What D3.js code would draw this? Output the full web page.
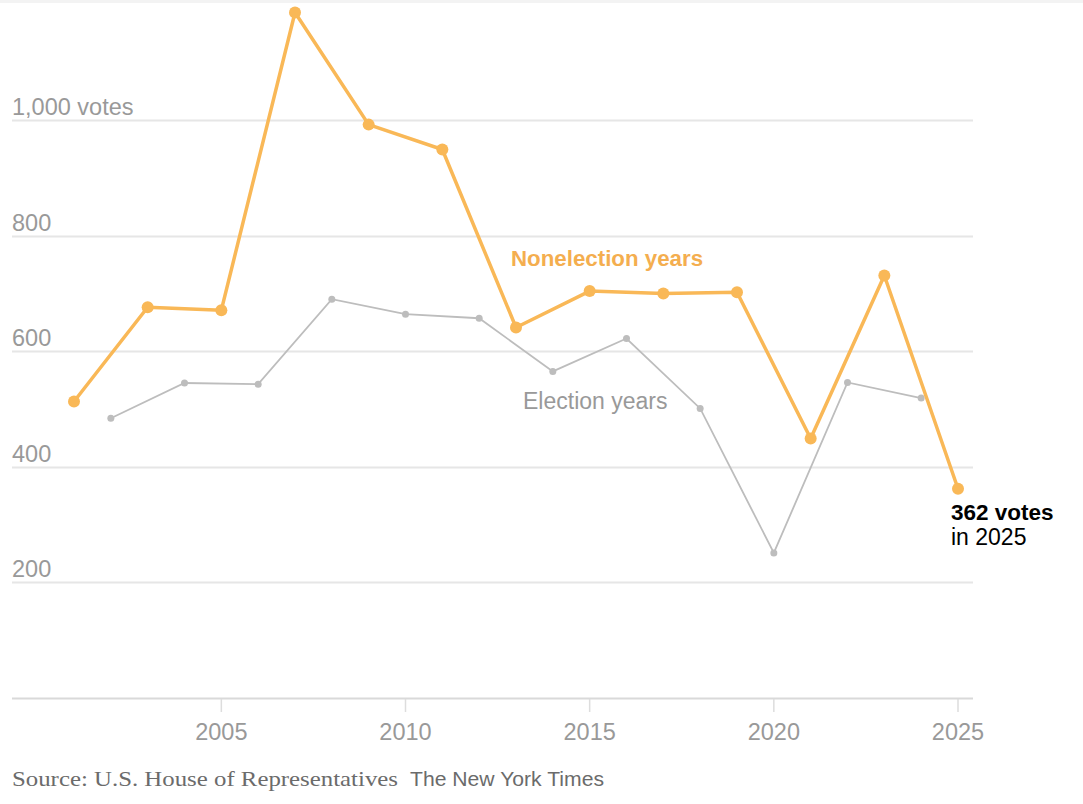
<!DOCTYPE html>
<html>
<head>
<meta charset="utf-8">
<script src="https://cdn.jsdelivr.net/npm/d3@7"></script>
<style>
  body { margin: 0; background: #fff; }
  svg { display: block; }
  text { font-family: "Liberation Sans", Arial, sans-serif; }
</style>
</head>
<body>
<svg id="chart" width="1083" height="804"></svg>
<script>
// nonelection (odd) years
var oddYears = [2001, 2003, 2005, 2007, 2009, 2011, 2013, 2015, 2017, 2019, 2021, 2023, 2025];
var oddVotes = [513, 676, 671, 1186, 992, 949, 641, 704, 700, 702, 449, 731, 362];

// election (even) years
var evenYears = [2002, 2004, 2006, 2008, 2010, 2012, 2014, 2016, 2018, 2020, 2022, 2024];
var evenVotes = [484, 545, 543, 690, 664, 657, 565, 622, 501, 251, 546, 519];

var yTicks = [0, 200, 400, 600, 800, 1000];
var xTicks = [2005, 2010, 2015, 2020, 2025];

var svg = d3.select("#chart");

var x = d3.scaleLinear().domain([2001, 2025]).range([74, 958]);
var y = d3.scaleLinear().domain([0, 1000]).range([698, 120]);

var left = 12, right = 973;

// top shade
svg.append("rect").attr("x", 0).attr("y", 0).attr("width", 1083).attr("height", 3).attr("fill", "#f3f3f3");

// gridlines
svg.append("g").selectAll("line")
  .data(yTicks)
  .enter().append("line")
  .attr("x1", left).attr("x2", right)
  .attr("y1", d => Math.round(y(d)) + 0.5)
  .attr("y2", d => Math.round(y(d)) + 0.5)
  .attr("stroke", d => d === 0 ? "#d9d9d9" : "#e6e6e6")
  .attr("stroke-width", 2);

// y labels
svg.append("g").selectAll("text")
  .data(yTicks.filter(d => d > 0))
  .enter().append("text")
  .attr("x", left)
  .attr("y", d => y(d) - 5)
  .attr("fill", "#999")
  .attr("font-size", 23.5)
  .text(d => d === 1000 ? "1,000 votes" : d3.format(",")(d));

// x axis ticks + labels
var xAxis = svg.append("g");
xAxis.selectAll("line")
  .data(xTicks)
  .enter().append("line")
  .attr("x1", d => x(d)).attr("x2", d => x(d))
  .attr("y1", 699).attr("y2", 712)
  .attr("stroke", "#ddd").attr("stroke-width", 1.5);
xAxis.selectAll("text")
  .data(xTicks)
  .enter().append("text")
  .attr("x", d => x(d))
  .attr("y", 740)
  .attr("text-anchor", "middle")
  .attr("fill", "#999")
  .attr("font-size", 23.5)
  .text(d => d);

var line = d3.line().x(d => x(d[0])).y(d => y(d[1]));

var evenPts = evenYears.map((d, i) => [d, evenVotes[i]]);
var oddPts = oddYears.map((d, i) => [d, oddVotes[i]]);

// election years (gray)
svg.append("path")
  .datum(evenPts)
  .attr("d", line)
  .attr("fill", "none")
  .attr("stroke", "#bdbdbd")
  .attr("stroke-width", 1.8);
svg.append("g").selectAll("circle")
  .data(evenPts)
  .enter().append("circle")
  .attr("cx", d => x(d[0])).attr("cy", d => y(d[1]))
  .attr("r", 3.5)
  .attr("fill", "#bdbdbd");

// nonelection years (orange)
svg.append("path")
  .datum(oddPts)
  .attr("d", line)
  .attr("fill", "none")
  .attr("stroke", "#f9b857")
  .attr("stroke-width", 3.5)
  .attr("stroke-linejoin", "round");
svg.append("g").selectAll("circle")
  .data(oddPts)
  .enter().append("circle")
  .attr("cx", d => x(d[0])).attr("cy", d => y(d[1]))
  .attr("r", 6)
  .attr("fill", "#f9b857");

// annotations
svg.append("text")
  .attr("x", 511).attr("y", 266)
  .attr("fill", "#f4ae4f")
  .attr("font-size", 22.3)
  .attr("font-weight", "bold")
  .text("Nonelection years");

svg.append("text")
  .attr("x", 523).attr("y", 409)
  .attr("fill", "#999")
  .attr("font-size", 23)
  .text("Election years");

svg.append("text")
  .attr("x", 951).attr("y", 520)
  .attr("fill", "#000")
  .attr("font-size", 22.5)
  .attr("font-weight", "bold")
  .text(oddVotes[oddVotes.length - 1] + " votes");
svg.append("text")
  .attr("x", 951).attr("y", 545)
  .attr("fill", "#000")
  .attr("font-size", 23)
  .text("in " + oddYears[oddYears.length - 1]);

// source
svg.append("text")
  .attr("x", 12).attr("y", 786)
  .attr("fill", "#6b6b6b")
  .attr("font-size", 22)
  .style("font-family", "'Liberation Serif', Georgia, serif")
  .attr("textLength", 386)
  .attr("lengthAdjust", "spacingAndGlyphs")
  .text("Source: U.S. House of Representatives");
svg.append("text")
  .attr("x", 410).attr("y", 786)
  .attr("fill", "#6b6b6b")
  .attr("font-size", 21)
  .attr("textLength", 194)
  .attr("lengthAdjust", "spacingAndGlyphs")
  .text("The New York Times");
</script>
</body>
</html>
